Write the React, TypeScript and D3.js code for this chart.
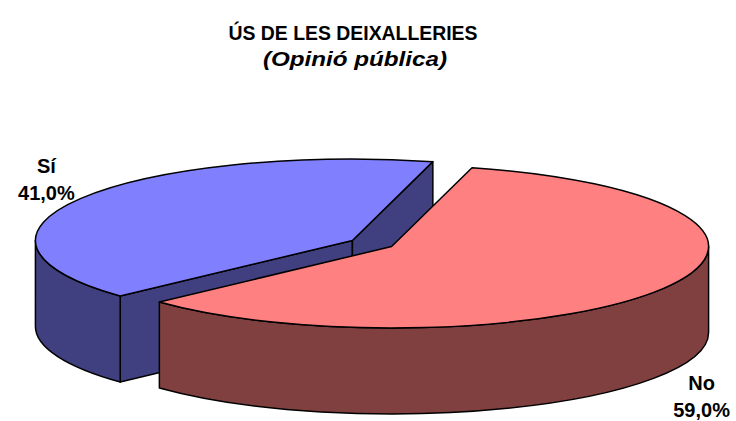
import * as d3 from 'd3';

const WIDTH = 736;
const HEIGHT = 421;

// ---- Data ------------------------------------------------------------------
const CATEGORIES = ['No', 'Sí'];
const VALUES = [59.0, 41.0];
const TOP_COLORS = ['#FF8080', '#8080FF'];
const SIDE_COLORS = ['#804040', '#404080'];
const TITLE = 'ÚS DE LES DEIXALLERIES';
const SUBTITLE = '(Opinió pública)';

// ---- Layout ----------------------------------------------------------------
const PIE = { cx: 372, cy: 243.5, rx: 317, ry: 81.5, depth: 86, explode: 0.072, startDeg: 14.7 };
// label offsets from the outer point of each slice's bisector
const LABEL_OFFSETS = [
  { dx: 38, dy: 102 },
  { dx: -34, dy: -26 },
];
const LINE_GAP = 27;
const FONT = '"Liberation Sans", Arial, Helvetica, sans-serif';

type Pt = [number, number];

function onEllipse(c: Pt, a: number, dy = 0): Pt {
  return [c[0] + PIE.rx * Math.sin(a), c[1] - PIE.ry * Math.cos(a) + dy];
}

function arcTo(p: Pt, large: number, sweep: number) {
  return `A${PIE.rx},${PIE.ry} 0 ${large} ${sweep} ${p[0]},${p[1]}`;
}

function topPath(c: Pt, a0: number, a1: number) {
  const p0 = onEllipse(c, a0);
  const p1 = onEllipse(c, a1);
  const large = a1 - a0 > Math.PI ? 1 : 0;
  return `M${c[0]},${c[1]}L${p0[0]},${p0[1]}${arcTo(p1, large, 1)}Z`;
}

function wallPath(c: Pt, s: number, e: number) {
  const p0 = onEllipse(c, s);
  const p1 = onEllipse(c, e);
  const q1 = onEllipse(c, e, PIE.depth);
  const q0 = onEllipse(c, s, PIE.depth);
  const large = e - s > Math.PI ? 1 : 0;
  return `M${p0[0]},${p0[1]}${arcTo(p1, large, 1)}L${q1[0]},${q1[1]}${arcTo(q0, large, 0)}Z`;
}

function facePath(c: Pt, a: number) {
  const p = onEllipse(c, a);
  const q = onEllipse(c, a, PIE.depth);
  return `M${c[0]},${c[1]}L${p[0]},${p[1]}L${q[0]},${q[1]}L${c[0]},${c[1] + PIE.depth}Z`;
}

// the front half of the rim is where cos(a) < 0, i.e. a in [pi/2, 3pi/2] (+2pi)
function visibleWalls(a0: number, a1: number): [number, number][] {
  const out: [number, number][] = [];
  for (const k of [-1, 0, 1]) {
    const lo = Math.max(a0, Math.PI / 2 + k * 2 * Math.PI);
    const hi = Math.min(a1, (3 * Math.PI) / 2 + k * 2 * Math.PI);
    if (hi > lo) out.push([lo, hi]);
  }
  return out;
}

export default function App() {
  const start = (PIE.startDeg * Math.PI) / 180;
  const arcs = d3
    .pie<number>()
    .sort(null)
    .startAngle(start)
    .endAngle(start + 2 * Math.PI)(VALUES);

  const slices = arcs.map((arc, i) => {
    const mid = (arc.startAngle + arc.endAngle) / 2;
    const c: Pt = [
      PIE.cx + PIE.explode * PIE.rx * Math.sin(mid),
      PIE.cy - PIE.explode * PIE.ry * Math.cos(mid),
    ];
    return { i, arc, mid, c };
  });

  // back to front
  const ordered = [...slices].sort((a, b) => -Math.cos(a.mid) - -Math.cos(b.mid));

  const stroke = { stroke: '#000', strokeWidth: 1.5, strokeLinejoin: 'round' as const };

  return (
    <svg
      width={WIDTH}
      height={HEIGHT}
      viewBox={`0 0 ${WIDTH} ${HEIGHT}`}
      style={{ position: 'absolute', left: 0, top: 0, background: '#fff' }}
    >
      <text
        x={353}
        y={40}
        textAnchor="middle"
        fontFamily={FONT}
        fontWeight="bold"
        fontSize={21}
        textLength={249}
        lengthAdjust="spacingAndGlyphs"
      >
        {TITLE}
      </text>
      <text
        x={355}
        y={66}
        textAnchor="middle"
        fontFamily={FONT}
        fontWeight="bold"
        fontStyle="italic"
        fontSize={21}
        textLength={184}
        lengthAdjust="spacingAndGlyphs"
      >
        {SUBTITLE}
      </text>

      {ordered.map(({ i, arc, c }) => {
        const a0 = arc.startAngle;
        const a1 = arc.endAngle;
        return (
          <g key={CATEGORIES[i]}>
            {Math.sin(a0) < 0 && <path d={facePath(c, a0)} fill={SIDE_COLORS[i]} {...stroke} />}
            {Math.sin(a1) > 0 && <path d={facePath(c, a1)} fill={SIDE_COLORS[i]} {...stroke} />}
            {visibleWalls(a0, a1).map(([s, e], k) => (
              <path key={k} d={wallPath(c, s, e)} fill={SIDE_COLORS[i]} {...stroke} />
            ))}
            <path d={topPath(c, a0, a1)} fill={TOP_COLORS[i]} {...stroke} />
          </g>
        );
      })}

      {slices.map(({ i, mid, c }) => {
        const p = onEllipse(c, mid);
        const x = p[0] + LABEL_OFFSETS[i].dx;
        const y = p[1] + LABEL_OFFSETS[i].dy;
        return (
          <g key={`lbl-${i}`} fontFamily={FONT} fontWeight="bold" fontSize={20} textAnchor="middle">
            <text x={x} y={y}>
              {CATEGORIES[i]}
            </text>
            <text x={x} y={y + LINE_GAP}>
              {`${VALUES[i].toFixed(1).replace('.', ',')}%`}
            </text>
          </g>
        );
      })}
    </svg>
  );
}
